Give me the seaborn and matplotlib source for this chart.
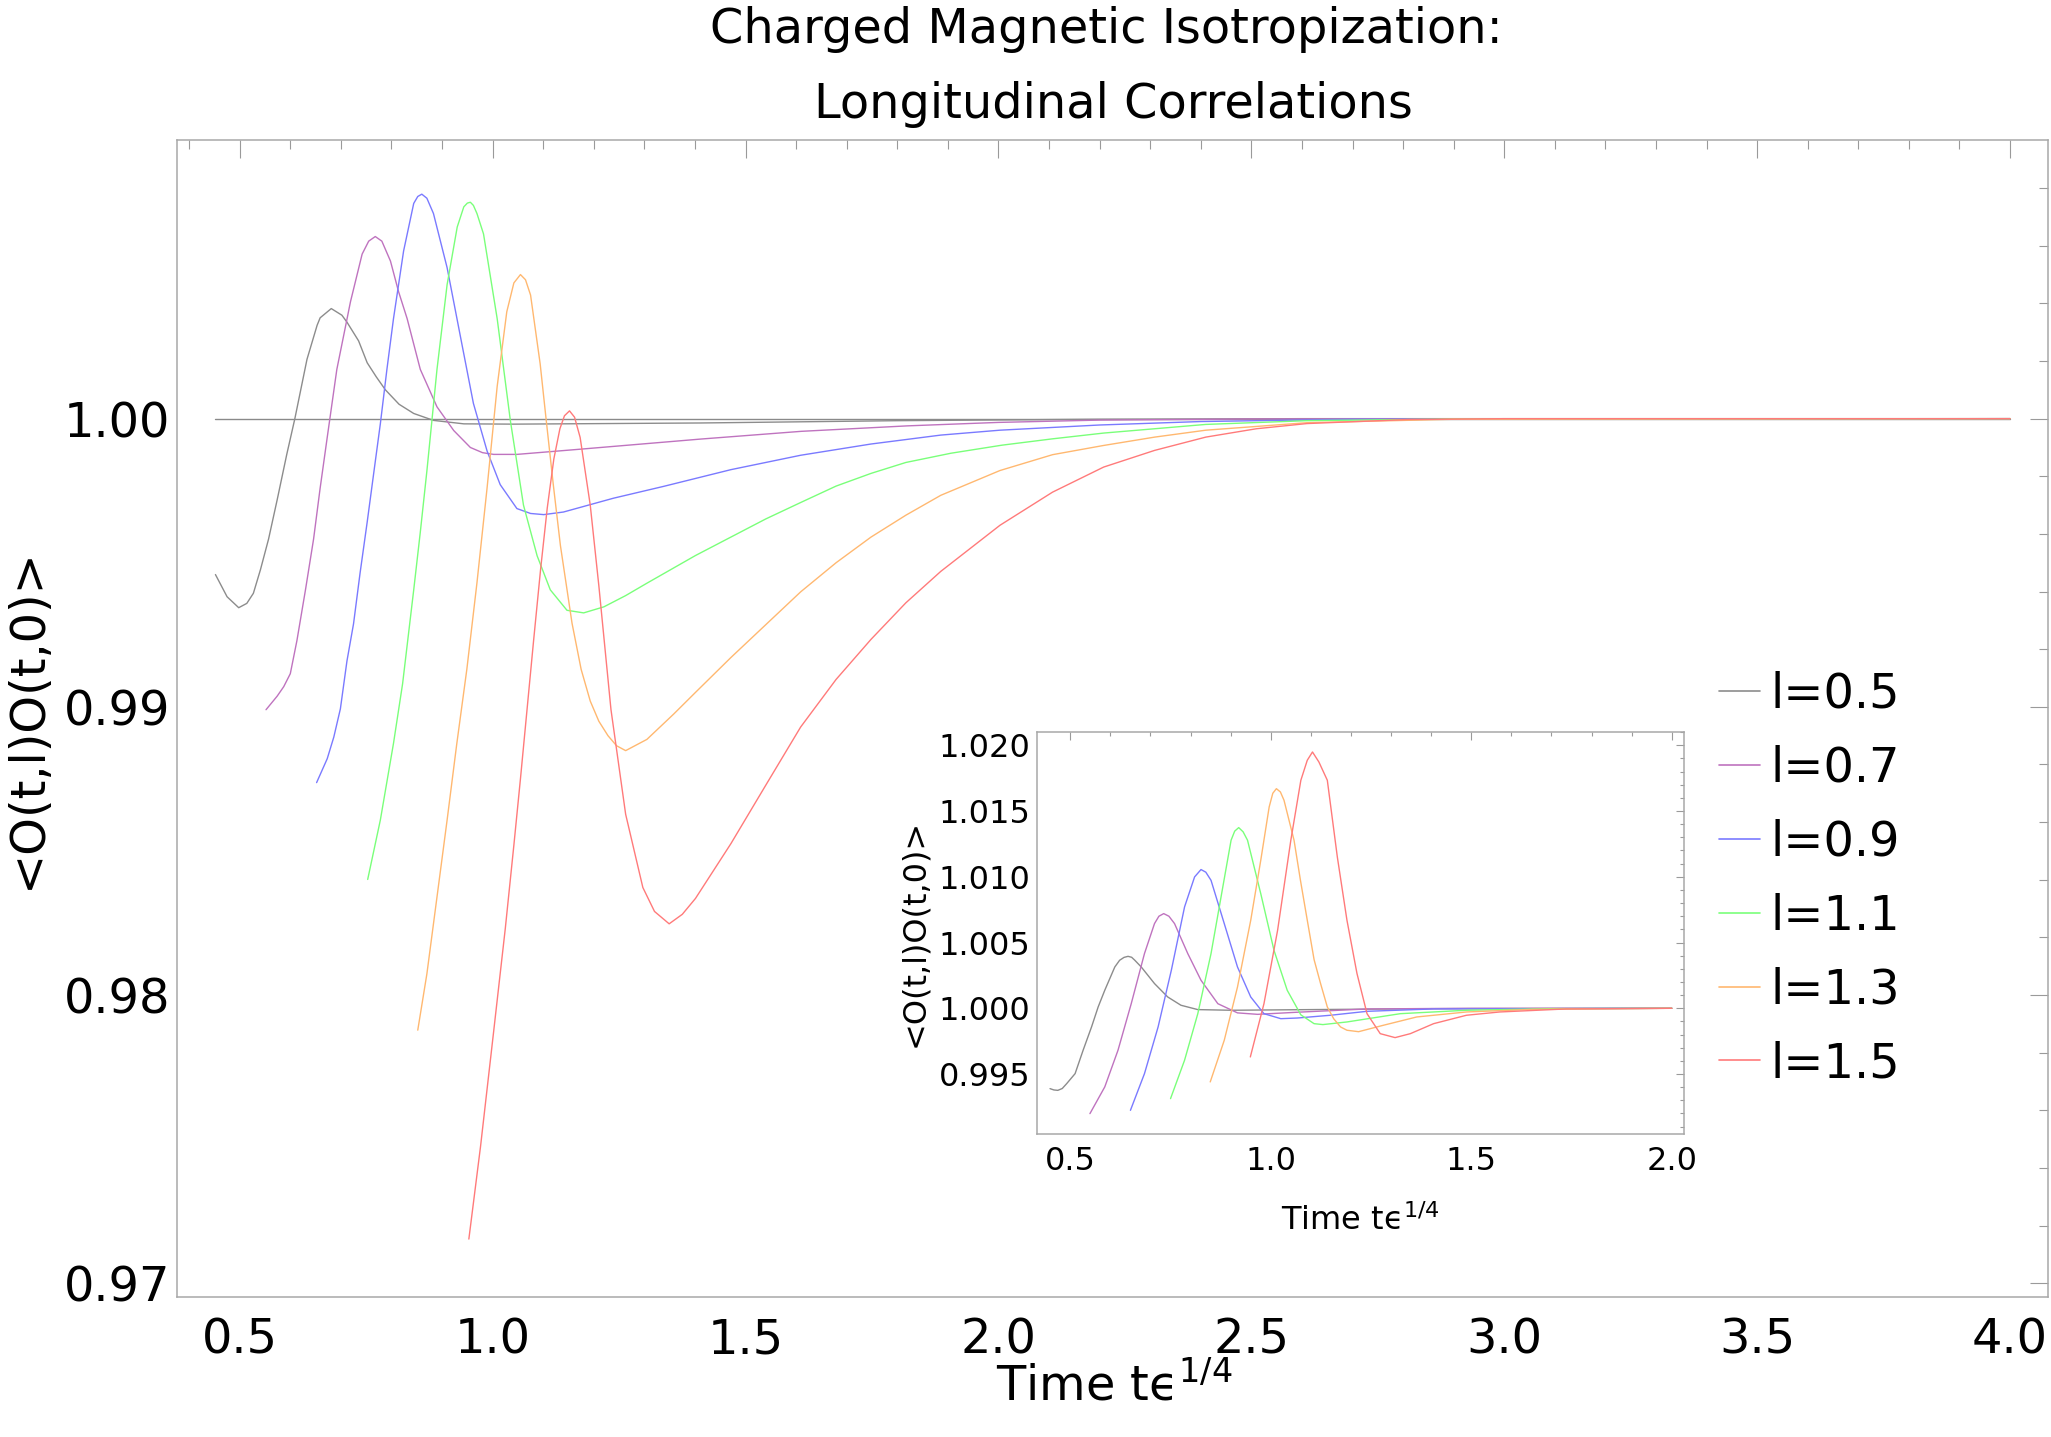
import numpy as np
import pandas as pd
import matplotlib
matplotlib.use("Agg")
import matplotlib.pyplot as plt
import seaborn as sns
from matplotlib.ticker import MultipleLocator, FormatStrFormatter

# ---------------- data ----------------
labels = ["l=0.5", "l=0.7", "l=0.9", "l=1.1", "l=1.3", "l=1.5"]
colors = ["#8c8c8c", "#bf73bf", "#7a7aff", "#7aff7a", "#ffb870", "#ff7a7a"]

# main panel
main_t_05 = [0.452, 0.475, 0.498, 0.514, 0.527, 0.541, 0.557, 0.574, 0.593, 0.609, 0.633, 0.653, 0.659,
             0.681, 0.702, 0.712, 0.735, 0.752, 0.770, 0.788, 0.815, 0.844, 0.883, 0.943, 1.042, 1.41,
             1.8, 2.2, 2.6, 4.0]
main_c_05 = [0.99459, 0.99382, 0.99344, 0.99359, 0.99394, 0.99476, 0.99582, 0.99718, 0.99876, 1.00000,
             1.00206, 1.00324, 1.00350, 1.00382, 1.00359, 1.00335, 1.00270, 1.00194, 1.00145, 1.00100,
             1.00050, 1.00018, 0.99994, 0.99982, 0.99981, 0.99985, 0.99993, 0.99998, 1.0, 1.0]

main_t_07 = [0.552, 0.574, 0.587, 0.600, 0.613, 0.630, 0.646, 0.659, 0.673, 0.692, 0.719, 0.742, 0.755,
             0.768, 0.781, 0.798, 0.814, 0.831, 0.857, 0.890, 0.923, 0.956, 0.980, 1.002, 1.048, 1.173,
             1.41, 1.61, 1.82, 2.0, 2.2, 2.5, 4.0]
main_c_07 = [0.98990, 0.99037, 0.99070, 0.99115, 0.99229, 0.99406, 0.99582, 0.99759, 0.99935, 1.00171,
             1.00406, 1.00571, 1.00616, 1.00632, 1.00616, 1.00547, 1.00441, 1.00347, 1.00171, 1.00041,
             0.99959, 0.99900, 0.99882, 0.99876, 0.99876, 0.99894, 0.99929, 0.99956, 0.99975, 0.99987,
             0.99995, 0.99999, 1.0]

main_t_09 = [0.652, 0.673, 0.686, 0.699, 0.712, 0.725, 0.738, 0.752, 0.765, 0.778, 0.791, 0.804, 0.824,
             0.844, 0.852, 0.860, 0.870, 0.883, 0.910, 0.936, 0.962, 0.989, 1.015, 1.048, 1.075, 1.101,
             1.140, 1.239, 1.338, 1.471, 1.609, 1.748, 1.886, 2.003, 2.2, 2.4, 2.7, 4.0]
main_c_09 = [0.98737, 0.98820, 0.98895, 0.98993, 0.99159, 0.99288, 0.99465, 0.99641, 0.99812, 0.99982,
             1.00171, 1.00347, 1.00582, 1.00747, 1.00771, 1.00779, 1.00765, 1.00712, 1.00524, 1.00288,
             1.00053, 0.99888, 0.99771, 0.99688, 0.99671, 0.99667, 0.99676, 0.99724, 0.99765, 0.99823,
             0.99873, 0.99912, 0.99943, 0.99960, 0.99978, 0.99990, 0.99998, 1.0]

main_t_11 = [0.753, 0.778, 0.804, 0.822, 0.844, 0.857, 0.870, 0.880, 0.890, 0.910, 0.930, 0.943, 0.950,
             0.956, 0.962, 0.969, 0.982, 1.009, 1.035, 1.061, 1.088, 1.114, 1.147, 1.180, 1.220, 1.263,
             1.305, 1.401, 1.471, 1.540, 1.609, 1.679, 1.748, 1.817, 1.906, 2.007, 2.107, 2.208, 2.41,
             2.61, 2.9, 4.0]
main_c_11 = [0.98401, 0.98607, 0.98873, 0.99080, 0.99406, 0.99606, 0.99818, 0.99994, 1.00171, 1.00465,
             1.00665, 1.00735, 1.00748, 1.00751, 1.00740, 1.00712, 1.00641, 1.00347, 0.99994, 0.99700,
             0.99524, 0.99406, 0.99335, 0.99326, 0.99347, 0.99386, 0.99429, 0.99525, 0.99589, 0.99652,
             0.99709, 0.99766, 0.99810, 0.99848, 0.99880, 0.99908, 0.99930, 0.99950, 0.99980, 0.99993,
             0.99999, 1.0]

main_t_13 = [0.852, 0.870, 0.890, 0.910, 0.929, 0.949, 0.969, 0.989, 1.009, 1.028, 1.042, 1.055, 1.065,
             1.075, 1.094, 1.105, 1.120, 1.134, 1.157, 1.175, 1.193, 1.210, 1.228, 1.245, 1.263, 1.305,
             1.358, 1.401, 1.471, 1.540, 1.609, 1.679, 1.748, 1.817, 1.886, 2.003, 2.107, 2.208, 2.309,
             2.41, 2.61, 2.9, 4.0]
main_c_13 = [0.97878, 0.98073, 0.98340, 0.98607, 0.98870, 0.99130, 0.99430, 0.99759, 1.00112, 1.00371,
             1.00471, 1.00500, 1.00482, 1.00429, 1.00190, 1.00010, 0.99770, 0.99560, 0.99290, 0.99130,
             0.99020, 0.98950, 0.98900, 0.98865, 0.98848, 0.98887, 0.98975, 0.99050, 0.99171, 0.99285,
             0.99399, 0.99500, 0.99589, 0.99665, 0.99734, 0.99820, 0.99875, 0.99907, 0.99936, 0.99960,
             0.99986, 0.99998, 1.0]

main_t_15 = [0.953, 0.976, 1.002, 1.025, 1.042, 1.055, 1.068, 1.081, 1.095, 1.108, 1.121, 1.133, 1.142,
             1.152, 1.162, 1.173, 1.193, 1.210, 1.234, 1.263, 1.297, 1.320, 1.349, 1.375, 1.401, 1.471,
             1.540, 1.609, 1.679, 1.748, 1.817, 1.886, 2.003, 2.107, 2.208, 2.309, 2.41, 2.51, 2.61,
             2.81, 3.0, 4.0]
main_c_15 = [0.97153, 0.97473, 0.97873, 0.98230, 0.98520, 0.98750, 0.98990, 0.99230, 0.99480, 0.99690,
             0.99860, 0.99965, 1.00010, 1.00027, 1.00005, 0.99935, 0.99700, 0.99420, 0.98990, 0.98627,
             0.98373, 0.98290, 0.98247, 0.98280, 0.98335, 0.98525, 0.98728, 0.98930, 0.99095, 0.99234,
             0.99361, 0.99470, 0.99630, 0.99745, 0.99832, 0.99890, 0.99936, 0.99965, 0.99983, 0.99997,
             1.0, 1.0]

ref_t = [0.452, 4.0]
ref_c = [1.0, 1.0]

# inset panel
ins_t_05 = [0.4495, 0.459, 0.469, 0.480, 0.491, 0.512, 0.532, 0.553, 0.5695, 0.586, 0.611, 0.623, 0.634,
            0.644, 0.653, 0.661, 0.677, 0.710, 0.743, 0.776, 0.818, 0.900, 1.1, 1.4, 2.0]
ins_c_05 = [0.99389, 0.99379, 0.99376, 0.99390, 0.99427, 0.99503, 0.99681, 0.99858, 1.00010, 1.00137,
            1.00314, 1.00365, 1.00387, 1.00395, 1.00388, 1.00365, 1.00314, 1.00188, 1.00086, 1.00023,
            0.99990, 0.99985, 0.99990, 0.99997, 1.0]

ins_t_07 = [0.549, 0.586, 0.619, 0.652, 0.685, 0.710, 0.721, 0.733, 0.746, 0.760, 0.793, 0.826, 0.868,
            0.917, 0.967, 1.066, 1.24, 1.5, 2.0]
ins_c_07 = [0.99199, 0.99402, 0.99681, 1.00035, 1.00416, 1.00644, 1.00700, 1.00720, 1.00700, 1.00644,
            1.00416, 1.00213, 1.00035, 0.99965, 0.99954, 0.99970, 0.99995, 1.0, 1.0]

ins_t_09 = [0.650, 0.685, 0.719, 0.752, 0.785, 0.810, 0.826, 0.838, 0.851, 0.884, 0.917, 0.950, 0.983,
            1.025, 1.066, 1.149, 1.24, 1.406, 2.0]
ins_c_09 = [0.99224, 0.99503, 0.99858, 1.00289, 1.00771, 1.00999, 1.01055, 1.01035, 1.00973, 1.00644,
            1.00314, 1.00086, 0.99959, 0.99921, 0.99926, 0.99947, 0.99977, 0.99995, 1.0]

ins_t_11 = [0.750, 0.785, 0.818, 0.851, 0.876, 0.901, 0.910, 0.920, 0.931, 0.942, 0.975, 1.008, 1.041,
            1.075, 1.108, 1.130, 1.190, 1.323, 1.488, 1.7, 2.0]
ins_c_11 = [0.99313, 0.99605, 0.99959, 1.00416, 1.00847, 1.01278, 1.01347, 1.01374, 1.01342, 1.01278,
            1.00872, 1.00441, 1.00137, 0.99950, 0.99883, 0.99876, 0.99896, 0.99959, 0.99985, 0.99997, 1.0]

ins_t_13 = [0.849, 0.884, 0.917, 0.950, 0.975, 0.996, 1.005, 1.014, 1.024, 1.033, 1.058, 1.074, 1.091,
            1.108, 1.124, 1.141, 1.157, 1.174, 1.190, 1.219, 1.281, 1.364, 1.488, 1.654, 2.0]
ins_c_13 = [0.99440, 0.99757, 1.00162, 1.00669, 1.01125, 1.01531, 1.01635, 1.01670, 1.01645, 1.01582,
            1.01278, 1.00973, 1.00670, 1.00370, 1.00190, 1.00010, 0.99920, 0.99858, 0.99833, 0.99822,
            0.99871, 0.99934, 0.99972, 0.99992, 1.0]

ins_t_15 = [0.949, 0.983, 1.017, 1.050, 1.075, 1.091, 1.104, 1.120, 1.141, 1.166, 1.190, 1.215, 1.240,
            1.273, 1.310, 1.348, 1.406, 1.488, 1.571, 1.737, 2.0]
ins_c_15 = [0.99630, 1.00035, 1.00593, 1.01278, 1.01734, 1.01886, 1.01949, 1.01873, 1.01734, 1.01150,
            1.00669, 1.00264, 0.99959, 0.99807, 0.99777, 0.99807, 0.99883, 0.99947, 0.99972, 0.99995, 1.0]

main_t = [main_t_05, main_t_07, main_t_09, main_t_11, main_t_13, main_t_15]
main_c = [main_c_05, main_c_07, main_c_09, main_c_11, main_c_13, main_c_15]
ins_t = [ins_t_05, ins_t_07, ins_t_09, ins_t_11, ins_t_13, ins_t_15]
ins_c = [ins_c_05, ins_c_07, ins_c_09, ins_c_11, ins_c_13, ins_c_15]


def long_table(ts, cs):
    frames = []
    for lab, t, c in zip(labels, ts, cs):
        frames.append(pd.DataFrame({"t": t, "corr": c, "l": lab}))
    return pd.concat(frames, ignore_index=True)


df_main = long_table(main_t, main_c)
df_ins = long_table(ins_t, ins_c)
df_ref = pd.DataFrame({"t": ref_t, "corr": ref_c})

# ---------------- figure ----------------
sns.set_style("white")
plt.rcParams["font.family"] = ["DejaVu Sans"]
plt.rcParams["mathtext.fontset"] = "dejavusans"
for k in ["text.color", "axes.labelcolor", "xtick.labelcolor", "ytick.labelcolor"]:
    plt.rcParams[k] = "black"
plt.rcParams["lines.solid_joinstyle"] = "round"

W, H = 2051, 1437
fig = plt.figure(figsize=(W / 100, H / 100), dpi=100)
palette = dict(zip(labels, colors))

spine_col = "#a8a8a8"
tick_col = "#9a9a9a"

# main axes
ax = fig.add_axes([177 / W, 1 - 1297 / H, (2048 - 177) / W, (1297 - 140) / H])
sns.lineplot(data=df_ref, x="t", y="corr", ax=ax, color="#8a8a8a", linewidth=1.0,
             estimator=None, legend=False)
sns.lineplot(data=df_main, x="t", y="corr", hue="l", palette=palette, ax=ax,
             linewidth=1.0, estimator=None, sort=False, legend=False)
ax.set_xlim(0.376, 4.075)
ax.set_ylim(0.96952, 1.00967)
ax.xaxis.set_major_locator(MultipleLocator(0.5))
ax.xaxis.set_minor_locator(MultipleLocator(0.1))
ax.yaxis.set_major_locator(MultipleLocator(0.01))
ax.yaxis.set_minor_locator(MultipleLocator(0.002))
ax.xaxis.set_major_formatter(FormatStrFormatter("%.1f"))
ax.yaxis.set_major_formatter(FormatStrFormatter("%.2f"))
ax.tick_params(which="both", direction="in", top=True, right=True, color=tick_col, width=0.8,
               labelcolor="black")
ax.tick_params(which="major", length=13, labelsize=34.5)
ax.tick_params(which="minor", length=6.5)
ax.tick_params(axis="x", which="major", pad=14)
ax.tick_params(axis="y", which="major", pad=5)
for s in ax.spines.values():
    s.set_color(spine_col)
    s.set_linewidth(1.1)
ax.set_xlabel("Time t\u03f5$^{1/4}$", fontsize=34.5, color="black")
ax.xaxis.set_label_coords(0.501, -0.089)
ax.xaxis.label.set_va("baseline")
ax.set_ylabel("<O(t,l)O(t,0)>", fontsize=34.5, color="black")
ax.yaxis.set_label_coords(-0.080, 0.5)
ax.yaxis.label.set_va("center")

# legend
handles = [plt.Line2D([], [], color=c, linewidth=1.2) for c in colors]
fig.legend(handles, labels, loc="upper left", bbox_to_anchor=(1719 / W, 1 - 671 / H),
           frameon=False, fontsize=34.5, handlelength=0.85, handletextpad=0.22,
           labelspacing=0.56, borderpad=0, borderaxespad=0, labelcolor="black")

# inset axes
axi = fig.add_axes([1037 / W, 1 - 1134 / H, (1684 - 1037) / W, (1134 - 732) / H])
sns.lineplot(data=df_ins, x="t", y="corr", hue="l", palette=palette, ax=axi,
             linewidth=1.0, estimator=None, sort=False, legend=False)
axi.set_xlim(0.417, 2.0305)
axi.set_ylim(0.99044, 1.02101)
axi.xaxis.set_major_locator(MultipleLocator(0.5))
axi.xaxis.set_minor_locator(MultipleLocator(0.1))
axi.yaxis.set_major_locator(MultipleLocator(0.005))
axi.yaxis.set_minor_locator(MultipleLocator(0.001))
axi.xaxis.set_major_formatter(FormatStrFormatter("%.1f"))
axi.yaxis.set_major_formatter(FormatStrFormatter("%.3f"))
axi.tick_params(which="both", direction="in", top=True, right=True, color=tick_col, width=0.8,
                labelcolor="black")
axi.tick_params(which="major", length=5.8, labelsize=23)
axi.tick_params(which="minor", length=3)
axi.tick_params(axis="x", which="major", pad=9)
axi.tick_params(axis="y", which="major", pad=5)
for s in axi.spines.values():
    s.set_color(spine_col)
    s.set_linewidth(1.1)
axi.set_xlabel("Time t\u03f5$^{1/4}$", fontsize=23, color="black")
axi.xaxis.set_label_coords(0.5, -0.239)
axi.xaxis.label.set_va("baseline")
axi.set_ylabel("<O(t,l)O(t,0)>", fontsize=23, color="black")
axi.yaxis.set_label_coords(-0.1886, 0.5)
axi.yaxis.label.set_va("center")

# title
fig.text(1106 / W, 1 - 43 / H, "Charged Magnetic Isotropization:", ha="center", va="baseline",
         fontsize=34.5, color="black")
fig.text(1113 / W, 1 - 118 / H, "Longitudinal Correlations", ha="center", va="baseline",
         fontsize=34.5, color="black")

fig.savefig("out.png", dpi=100, facecolor="white")
